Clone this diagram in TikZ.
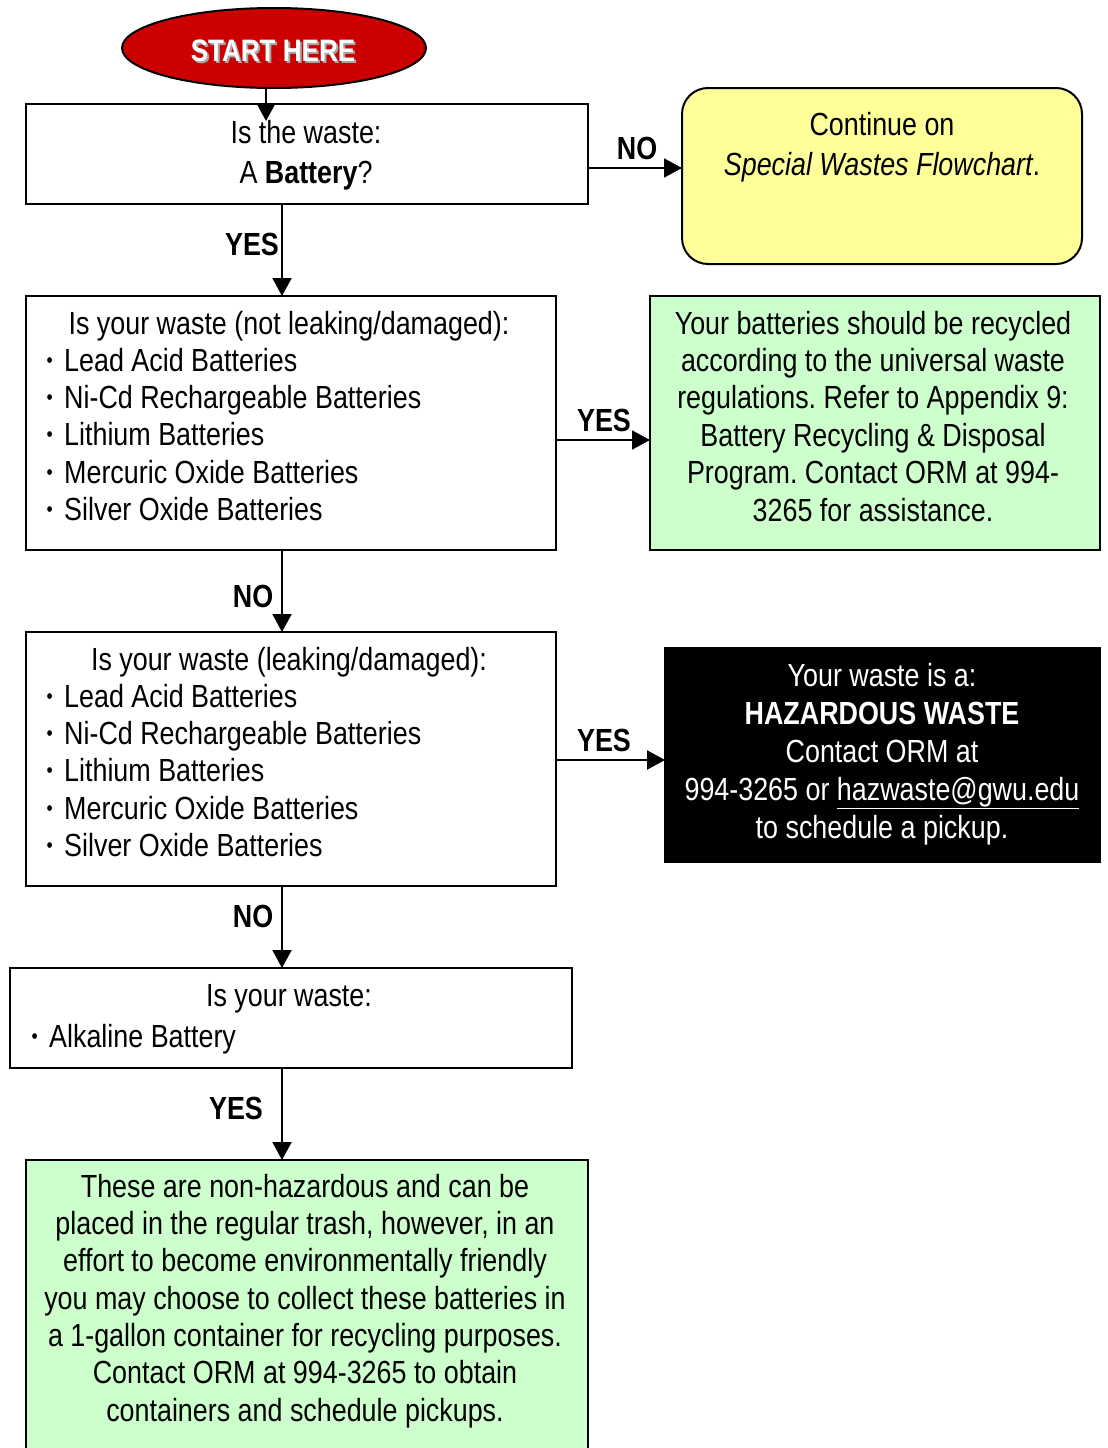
\documentclass[tikz,border=0pt]{standalone}
\usepackage{fontspec}
\setmainfont{Liberation Sans}[FakeStretch=0.84]
\usetikzlibrary{arrows.meta,shapes.geometric}
\definecolor{startred}{HTML}{CC0000}
\definecolor{yelfill}{HTML}{FFFF99}
\definecolor{grnfill}{HTML}{CCFFCC}
\newcommand{\bul}{\makebox[19pt][l]{\hspace{1.5pt}\raisebox{4pt}{\fontsize{21}{21}\selectfont •}}}
\frenchspacing
\begin{document}
\begin{tikzpicture}[x=1pt,y=-1pt,
  box/.style={draw=black, line width=2pt, inner sep=0pt, outer sep=0pt},
  txt/.style={inner sep=0pt, font=\fontsize{32}{37.4}\selectfont\frenchspacing, align=center},
  lst/.style={inner sep=0pt, font=\fontsize{32}{37.4}\selectfont, align=left, anchor=north west},
  lbl/.style={inner sep=0pt, font=\fontsize{32}{37.4}\selectfont\bfseries, anchor=base},
  arr/.style={line width=2pt, -{Triangle[length=18pt,width=19pt]}}
]
\useasboundingbox (0,0) rectangle (1108,1448);
\fill[white] (0,0) rectangle (1108,1448);

% coordinates used by connectors
\coordinate (cx266) at (266,0);
\coordinate (cx282) at (282,0);
\coordinate (tip1) at (266,121);
\coordinate (cy168) at (0,168);
\coordinate (cy440) at (0,440);
\coordinate (cy760) at (0,760);

% start ellipse
\node[ellipse, draw=black, line width=2pt, fill=startred, minimum width=304pt, minimum height=80pt, inner sep=0pt] (start) at (274,48) {};
\node[lbl, text=gray!70, font=\fontsize{31}{37}\selectfont\bfseries] (startsh) at (275,63) {START HERE};
\node[lbl, text=white, font=\fontsize{31}{37}\selectfont\bfseries] (starttx) at (273,61) {START HERE};

% boxes
\node[box, minimum width=562pt, minimum height=100pt] (b1) at (307,154) {};
\node[box, rounded corners=26pt, fill=yelfill, minimum width=400pt, minimum height=176pt] (yel) at (882,176) {};
\node[box, minimum width=530pt, minimum height=254pt] (b2) at (291,423) {};
\node[box, fill=grnfill, minimum width=450pt, minimum height=254pt] (g1) at (875,423) {};
\node[box, minimum width=530pt, minimum height=254pt] (b3) at (291,759) {};
\node[box, fill=black, minimum width=435pt, minimum height=214pt] (blk) at (882.5,755) {};
\node[box, minimum width=562pt, minimum height=100pt] (b4) at (291,1018) {};
\node[box, fill=grnfill, minimum width=562pt, minimum height=300pt] (g2) at (307,1310) {};

% texts
\node[txt, font=\fontsize{32}{40}\selectfont, anchor=north] (t1) at (306,115) {\strut Is the waste:\\A \textbf{Battery}?};
\node[txt, font=\fontsize{32}{40}\selectfont, anchor=north] (tyel) at (882,107) {\strut Continue on\\\textit{Special Wastes Flowchart}.};
\node[txt, anchor=base] (t2a) at (289,334) {Is your waste (not leaking/damaged):};
\node[lst] (t2b) at (45,344.8) {\strut\bul Lead Acid Batteries\\\bul Ni-Cd Rechargeable Batteries\\\bul Lithium Batteries\\\bul Mercuric Oxide Batteries\\\bul Silver Oxide Batteries};
\node[txt, anchor=north] (tg1) at (873,307.8) {\strut Your batteries should be recycled\\according to the universal waste\\regulations. Refer to Appendix 9:\\Battery Recycling \& Disposal\\Program. Contact ORM at 994-\\3265 for assistance.};
\node[txt, anchor=base] (t3a) at (289,670) {Is your waste (leaking/damaged):};
\node[lst] (t3b) at (45,680.8) {\strut\bul Lead Acid Batteries\\\bul Ni-Cd Rechargeable Batteries\\\bul Lithium Batteries\\\bul Mercuric Oxide Batteries\\\bul Silver Oxide Batteries};
\node[txt, font=\fontsize{32}{38}\selectfont, text=white, anchor=north] (tblk) at (882,659.4) {\strut Your waste is a:\\\textbf{HAZARDOUS WASTE}\\Contact ORM at\\994-3265 or \underline{hazwaste@gwu.edu}\\to schedule a pickup.};
\node[txt, anchor=base] (t4a) at (289,1006) {Is your waste:};
\node[txt, anchor=base west] (t4b) at (30,1047) {\bul Alkaline Battery};
\node[txt, font=\fontsize{32}{37.3}\selectfont, anchor=north] (tg2) at (305,1170.9) {\strut These are non-hazardous and can be\\placed in the regular trash, however, in an\\effort to become environmentally friendly\\you may choose to collect these batteries in\\a 1-gallon container for recycling purposes.\\Contact ORM at 994-3265 to obtain\\containers and schedule pickups.};

% connectors
\draw[arr] (start.south -| cx266) -- (tip1);
\draw[arr] (b1.east |- cy168) -- (yel.west |- cy168);
\draw[arr] (b1.south -| cx282) -- (b2.north -| cx282);
\draw[arr] (b2.east |- cy440) -- (g1.west |- cy440);
\draw[arr] (b2.south -| cx282) -- (b3.north -| cx282);
\draw[arr] (b3.east |- cy760) -- (blk.west |- cy760);
\draw[arr] (b3.south -| cx282) -- (b4.north -| cx282);
\draw[arr] (b4.south -| cx282) -- (g2.north -| cx282);

% connector labels
\node[lbl] (lno1) at (637,159) {NO};
\node[lbl] (lyes1) at (252,255) {YES};
\node[lbl] (lyes2) at (604,431) {YES};
\node[lbl] (lno2) at (253,607) {NO};
\node[lbl] (lyes3) at (604,751) {YES};
\node[lbl] (lno3) at (253,927) {NO};
\node[lbl] (lyes4) at (236,1119) {YES};
\end{tikzpicture}
\end{document}
